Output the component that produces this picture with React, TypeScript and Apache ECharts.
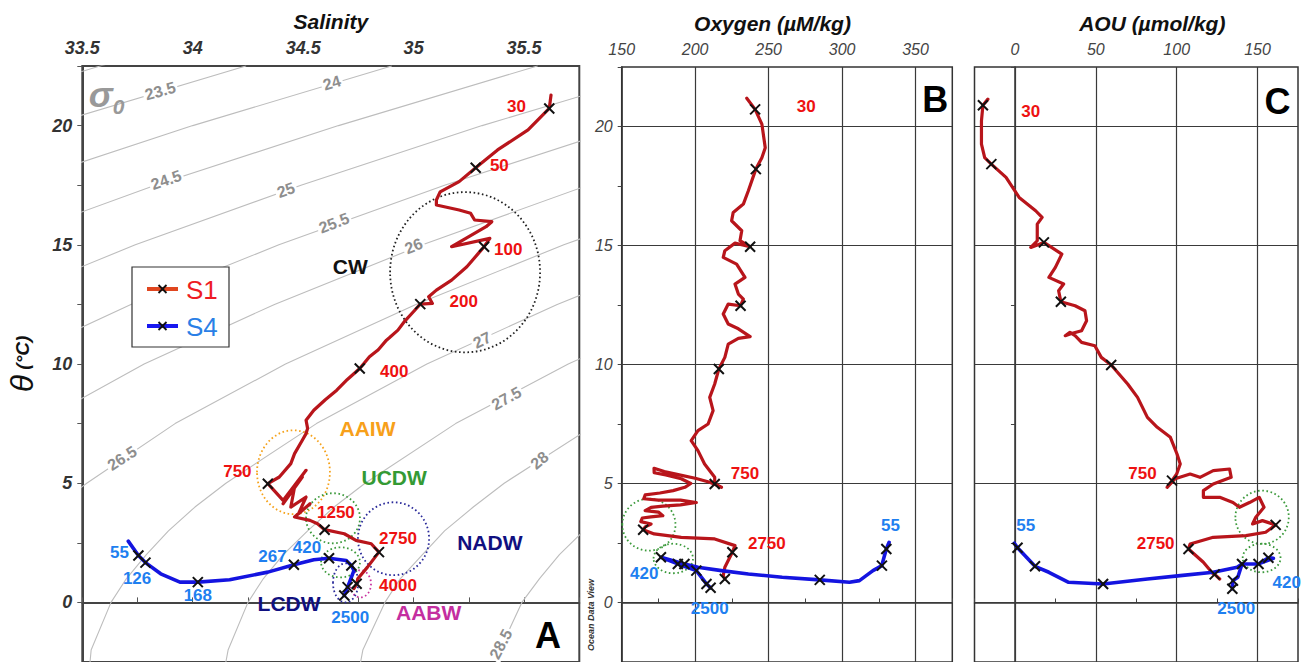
import React, { useEffect, useRef } from "react";
import * as echarts from "echarts";

const FONT = "'Liberation Sans', Arial, Helvetica, sans-serif";

// ---------- axis ranges ----------
const salinityRange = [33.5, 35.75];
const oxygenRange = [150, 375];
const aouRange = [-25, 175];
const thetaRange = [-2.5, 22.5];
const oxygenGrid = [200, 250, 300, 350];
const aouGrid = [0, 50, 100, 150];
const thetaGrid = [0, 5, 10, 15, 20];

// ---------- Panel A: σ0 isopycnals, [S, θ] ----------
const sigma23_0 = [[32.69, 20], [33.58, 22.5], [34.55, 25]];
const sigma23_5 = [[32.53, 17.5], [33.34, 20], [34.24, 22.5]];
const sigma24_0 = [[33.18, 17.5], [34.0, 20], [34.9, 22.5]];
const sigma24_5 = [[33.09, 15], [33.83, 17.5], [34.66, 20], [35.56, 22.5]];
const sigma25_0 = [[33.08, 12.5], [33.74, 15], [34.49, 17.5], [35.31, 20], [36.21, 22.5]];
const sigma25_5 = [[33.14, 10], [33.72, 12.5], [34.39, 15], [35.14, 17.5], [35.97, 20]];
const sigma26_0 = [[33.29, 7.5], [33.78, 10], [34.37, 12.5], [35.04, 15], [35.79, 17.5]];
const sigma26_5 = [[33.16, 2], [33.27, 3], [33.38, 4], [33.52, 5], [33.92, 7.5], [34.42, 10], [35.01, 12.5], [35.68, 15], [36.44, 17.5]];
const sigma27_0 = [[33.53, -3], [33.54, -2], [33.63, 0], [33.7, 1], [33.79, 2], [33.89, 3], [34.01, 4], [34.15, 5], [34.56, 7.5], [35.06, 10], [35.65, 12.5], [36.33, 15]];
const sigma27_5 = [[34.14, -3], [34.16, -2], [34.25, 0], [34.32, 1], [34.41, 2], [34.52, 3], [34.64, 4], [34.78, 5], [35.19, 7.5], [35.7, 10], [36.3, 12.5]];
const sigma28_0 = [[34.75, -3], [34.77, -2], [34.87, 0], [34.94, 1], [35.04, 2], [35.14, 3], [35.27, 4], [35.41, 5], [35.83, 7.5]];
const sigma28_5 = [[35.36, -3], [35.39, -2], [35.49, 0], [35.57, 1], [35.66, 2], [35.77, 3]];
const isopycnals = [sigma23_0, sigma23_5, sigma24_0, sigma24_5, sigma25_0, sigma25_5, sigma26_0, sigma26_5, sigma27_0, sigma27_5, sigma28_0, sigma28_5];

const isopycnalLabels: [string, number, number][] = [
  ["23.5", 33.853, 21.45], ["24", 34.63, 21.79], ["24.5", 33.88, 17.72], ["25", 34.422, 17.3],
  ["25.5", 34.64, 15.91], ["26", 35.0, 14.95], ["26.5", 33.68, 6.05], ["27", 35.31, 11.0],
  ["27.5", 35.42, 8.56], ["28", 35.57, 5.96], ["28.5", 35.395, -1.75],
];
const isopycnalLabelAngles = [16, 17, 19, 20, 21, 22, 33, 26, 29, 40, 62];

// ---------- Panel A: θ–S profiles ----------
const s1TS = [
  [35.622, 21.28], [35.614, 20.72], [35.518, 19.82], [35.38, 18.98], [35.281, 18.23], [35.206, 17.65], [35.12, 17.22],
  [35.103, 16.88], [35.103, 16.67], [35.206, 16.46], [35.258, 16.32], [35.276, 16.04], [35.354, 15.97], [35.328, 15.76],
  [35.172, 14.92], [35.345, 15.27], [35.319, 14.92], [35.293, 14.64], [35.241, 14.08], [35.172, 13.52], [35.103, 13.1],
  [35.068, 12.82], [35.085, 12.54], [35.03, 12.51], [35.0, 12.2], [34.96, 11.8], [34.929, 11.42], [34.89, 11.1],
  [34.877, 11.0], [34.84, 10.6], [34.8, 10.3], [34.756, 9.81], [34.7, 9.35], [34.652, 8.9], [34.6, 8.5], [34.548, 8.06],
  [34.513, 7.64], [34.52, 7.3], [34.513, 7.08], [34.496, 6.8], [34.461, 6.24], [34.444, 5.82], [34.392, 5.26],
  [34.34, 4.98], [34.409, 4.28], [34.513, 5.54], [34.444, 4.7], [34.496, 5.26], [34.409, 4.14], [34.461, 4.84],
  [34.444, 4.0], [34.513, 4.42], [34.479, 3.72], [34.531, 4.14], [34.461, 3.58], [34.531, 3.44], [34.565, 3.3],
  [34.597, 3.05], [34.686, 2.88], [34.739, 2.6], [34.808, 2.46], [34.843, 2.11], [34.791, 1.48], [34.747, 0.99],
  [34.742, 0.78], [34.73, 0.58],
];
const s1TSMarks = [[35.614, 20.72], [35.281, 18.23], [35.319, 14.92], [35.03, 12.51], [34.756, 9.81], [34.34, 4.98], [34.597, 3.05], [34.843, 2.11], [34.742, 0.78]];
const s4TS = [
  [33.708, 2.57], [33.754, 1.97], [33.786, 1.67], [33.855, 1.2], [33.942, 0.85], [34.023, 0.85], [34.167, 0.95],
  [34.34, 1.27], [34.458, 1.58], [34.548, 1.79], [34.617, 1.85], [34.695, 1.76], [34.718, 1.55], [34.73, 1.34],
  [34.713, 0.92], [34.701, 0.64], [34.686, 0.29],
];
const s4TSMarks = [[33.754, 1.97], [33.786, 1.67], [34.023, 0.85], [34.458, 1.58], [34.617, 1.85], [34.718, 1.55], [34.701, 0.64], [34.686, 0.29]];

const s1DepthLabelsA: [string, number, number][] = [
  ["30", 35.466, 20.82], ["50", 35.388, 18.32], ["100", 35.428, 14.81], ["200", 35.227, 12.61], ["400", 34.912, 9.67],
  ["750", 34.202, 5.47], ["1250", 34.648, 3.79], ["2750", 34.929, 2.67], ["4000", 34.929, 0.71],
];
const s4DepthLabelsA: [string, number, number][] = [
  ["55", 33.668, 2.11], ["126", 33.748, 1.02], ["168", 34.023, 0.29], ["267", 34.361, 1.94], ["420", 34.517, 2.32], ["2500", 34.713, -0.62],
];
const waterMassLabels: [string, number, number][] = [
  ["CW", 34.713, 14.08], ["AAIW", 34.791, 7.29], ["UCDW", 34.912, 5.26], ["NADW", 35.345, 2.53], ["LCDW", 34.436, -0.05], ["AABW", 35.068, -0.41],
];
const waterMassColors = ["#111111", "#f7a01a", "#349a34", "#101080", "#101080", "#c42ea0"];
// [S centre, θ centre, S radius, θ radius]
const waterMassEllipsesA = [
  [35.233, 13.85, 0.3395, 3.36], [34.456, 5.46, 0.165, 1.76], [34.635, 3.53, 0.122, 1.05], [34.909, 2.67, 0.161, 1.53],
  [34.669, 1.68, 0.088, 0.63], [34.759, 0.78, 0.048, 0.57], [34.692, 0.82, 0.057, 0.82],
];
const ellipseColorsA = ["#222222", "#f5a21b", "#3c9a3c", "#2a2a9a", "#3c9a3c", "#c8309e", "#2a2a9a"];

// ---------- Panel B: θ–O2 ----------
const s1Oxy = [
  [235.1, 21.19], [240.8, 20.72], [245.4, 20.1], [247.7, 19.11], [245.4, 18.69], [241.3, 18.21], [236.2, 17.3], [232.8, 16.74],
  [225.9, 16.39], [224.8, 16.04], [231.7, 15.62], [230.5, 15.2], [237.4, 14.95], [227.1, 15.1], [220.2, 14.78], [219.1, 14.5],
  [228.2, 14.22], [233.9, 13.66], [227.1, 13.38], [229.4, 12.96], [232.8, 12.75], [230.9, 12.47], [222.5, 12.54], [219.1, 12.12],
  [222.5, 11.7], [229.4, 11.5], [237.4, 11.17], [229.4, 11.1], [222.5, 10.86], [220.2, 10.3], [216.1, 9.81], [213.3, 9.18],
  [209.9, 8.62], [212.2, 8.06], [208.8, 7.5], [201.9, 7.22], [197.3, 6.8], [201.9, 6.38], [206.4, 5.82], [213.3, 5.26],
  [213.3, 4.98], [217.9, 4.84], [210, 5.05], [200, 5.22], [190, 5.35], [179, 5.5], [172, 5.64], [172.1, 5.45], [180, 5.36],
  [190.5, 5.2], [197, 5.0], [193, 4.84], [185, 4.7], [176, 4.6], [166, 4.52], [165, 4.36], [175, 4.3], [190, 4.3],
  [200.8, 4.2], [190, 4.1], [178, 4.05], [170, 4.0], [166, 3.86], [175, 3.8], [178, 3.65], [170, 3.6], [164, 3.55],
  [163, 3.4], [170, 3.3], [166, 3.18], [164.6, 3.06], [172.1, 2.88], [190.5, 2.74], [213.3, 2.67], [227.1, 2.39],
  [225.3, 2.11], [220.2, 1.48], [219.1, 1.13], [220.2, 0.99],
];
const s1OxyMarks = [[240.8, 20.72], [241.3, 18.21], [237.4, 14.95], [230.9, 12.47], [216.1, 9.81], [213.3, 4.98], [164.6, 3.06], [225.3, 2.11], [220.2, 0.99]];
const s4Oxy = [
  [332, 2.53], [330.1, 2.25], [327.9, 1.76], [327.1, 1.55], [321, 1.34], [311.8, 0.92], [305, 0.85], [284.8, 0.95],
  [259.2, 1.06], [236.2, 1.2], [217.9, 1.34], [201.9, 1.48], [192.7, 1.62], [176.7, 1.9], [188.2, 1.62], [200.8, 1.34],
  [207.7, 0.78], [210.5, 0.62],
];
const s4OxyMarks = [[330.1, 2.25], [327.1, 1.55], [284.8, 0.95], [192.7, 1.62], [176.7, 1.9], [188.2, 1.62], [200.8, 1.34], [207.7, 0.78], [210.5, 0.62]];
const s1LabelsB: [string, number, number][] = [["30", 275.6, 20.82], ["750", 233.9, 5.4], ["2750", 248.8, 2.49]];
const s4LabelsB: [string, number, number][] = [["55", 332.9, 3.22], ["420", 165.3, 1.23], ["2500", 209.9, -0.26]];
const ellipsesB = [[168.5, 3.27, 18.1, 1.09], [185.1, 1.85, 13.4, 0.62]];

// ---------- Panel C: θ–AOU ----------
const s1Aou = [
  [-16.7, 21.15], [-19.8, 20.89], [-20.7, 20.24], [-20.7, 19.26], [-18.7, 18.69], [-14.6, 18.42], [-5.5, 17.86], [2.6, 17.02],
  [12.8, 16.46], [16.8, 16.18], [13.8, 15.9], [13.8, 15.2], [9.8, 14.92], [17.9, 15.13], [29.0, 14.64], [25.0, 14.08],
  [21.0, 13.66], [30.1, 13.38], [27.0, 13.1], [28.4, 12.64], [37.2, 12.47], [43.3, 12.26], [44.3, 11.84], [41.2, 11.42],
  [35, 11.3], [31.1, 11.21], [34, 11.35], [37.2, 11.21], [41.2, 10.93], [49.4, 10.79], [53.4, 10.3], [59.5, 9.98],
  [69.7, 9.18], [75.8, 8.62], [81.9, 7.78], [88.0, 7.36], [96.1, 6.94], [100.2, 6.24], [102.2, 5.82], [100, 5.4],
  [97.1, 5.12], [94.1, 4.84], [99, 5.2], [108.3, 5.4], [114.4, 5.26], [122.6, 5.54], [132.7, 5.61], [133.7, 5.26],
  [122.6, 4.98], [116.5, 4.7], [116.5, 4.42], [126.6, 4.42], [134.8, 4.2], [138.8, 4.0], [145, 4.2], [151, 4.42],
  [154, 4.0], [148.9, 3.58], [146.9, 3.3], [153, 3.44], [161.2, 3.26], [155, 2.95], [142.8, 2.81], [122.6, 2.74],
  [108.3, 2.46], [107.3, 2.25], [116.5, 1.69], [122.6, 1.2], [123.5, 1.18], [126.6, 0.99],
];
const s1AouMarks = [[-19.8, 20.89], [-14.6, 18.42], [17.9, 15.13], [28.4, 12.64], [59.5, 9.98], [97.1, 5.12], [161.2, 3.26], [107.3, 2.25], [123.5, 1.18]];
const s4Aou = [
  [-0.4, 2.49], [1.6, 2.3], [12.4, 1.52], [21, 1.27], [33.2, 0.85], [54.5, 0.78], [81.9, 0.99], [102.2, 1.13], [122.6, 1.27],
  [137.4, 1.48], [140.4, 1.62], [150.6, 1.62], [156.7, 1.88], [159.8, 1.86], [150.6, 1.62], [140.4, 1.62], [137.8, 1.06],
  [134.8, 0.92], [134.4, 0.58],
];
const s4AouMarks = [[1.6, 2.3], [12.4, 1.52], [54.5, 0.78], [140.4, 1.62], [150.6, 1.62], [156.7, 1.88], [134.8, 0.92], [134.4, 0.58]];
const s1LabelsC: [string, number, number][] = [["30", 9.76, 20.65], ["750", 78.9, 5.4], ["2750", 87.0, 2.49]];
const s4LabelsC: [string, number, number][] = [["55", 6.7, 3.23], ["420", 168, 0.85], ["2500", 136.8, -0.24]];
const ellipsesC = [[152.8, 3.58, 16.5, 1.12], [152.5, 1.87, 11.7, 0.6]];

// ---------- panel letters ----------
const panelLetters: [string, number, number][][] = [[["A", 35.608, -1.39]], [["B", 363.4, 21.13]], [["C", 162.3, 21.05]]];

const S1_LINE = "#b8151b";
const S4_LINE = "#1414e0";
const S1_TEXT = "#ee1111";
const S4_TEXT = "#1f7ff0";
const X_SYMBOL = "path://M0,0L10,10M10,0L0,10";

const isMult = (v: number, step: number) => Math.abs(v / step - Math.round(v / step)) < 1e-6;
const fmt = (step: number) => (v: number) => (isMult(v, step) ? String(Math.round(v * 100) / 100) : "");

function lineS(i: number, data: number[][], color: string, width: number, z = 5) {
  return {
    type: "line", xAxisIndex: i, yAxisIndex: i, data, showSymbol: false, symbol: "none", silent: true, z,
    clip: true, lineStyle: { color, width, join: "round", cap: "round" },
  };
}
function markS(i: number, data: number[][]) {
  return {
    type: "scatter", xAxisIndex: i, yAxisIndex: i, data, symbol: X_SYMBOL, symbolSize: 10, silent: true, z: 6,
    itemStyle: { color: "rgba(0,0,0,0)", borderColor: "#111", borderWidth: 2, opacity: 1 },
  };
}
function textS(i: number, items: [string, number, number][], style: any, colors?: string[], angles?: number[], z = 8) {
  return {
    type: "scatter", xAxisIndex: i, yAxisIndex: i, silent: true, z, symbolSize: 1,
    itemStyle: { color: "rgba(0,0,0,0)", opacity: 1 },
    data: items.map((d, k) => ({
      name: d[0], value: [d[1], d[2]],
      label: { ...(colors ? { color: colors[k] } : {}), ...(angles ? { rotate: angles[k] } : {}) },
    })),
    label: { show: true, position: "inside", formatter: "{b}", fontFamily: FONT, opacity: 1, ...style },
  };
}
function ellipseS(i: number, data: number[][], colors: string[]) {
  return {
    type: "custom", xAxisIndex: i, yAxisIndex: i, silent: true, z: 4, data,
    renderItem: (params: any, api: any) => {
      const c = api.coord([api.value(0), api.value(1)]);
      const s = api.size([api.value(2), api.value(3)], [api.value(0), api.value(1)]);
      return {
        type: "ellipse",
        shape: { cx: c[0], cy: c[1], rx: s[0], ry: s[1] },
        style: { fill: "none", stroke: colors[params.dataIndex], lineWidth: 1.8, lineDash: [1.6, 2.6] },
      };
    },
  };
}
function gridS(i: number, xs: number[], ys: number[]) {
  return {
    type: "line", xAxisIndex: i, yAxisIndex: i, data: [], silent: true, z: 1,
    markLine: {
      silent: true, symbol: ["none", "none"], label: { show: false }, animation: false,
      lineStyle: { color: "#3a3a3a", width: 1.2, type: "solid" },
      emphasis: { disabled: true },
      data: [...xs.map((v) => ({ xAxis: v })), ...ys.map((v) => ({ yAxis: v }))],
    },
  };
}

const depthStyle = { fontSize: 17, fontWeight: "bold" };

function buildOption() {
  const titleStyle = { fontSize: 21, fontWeight: "bold", fontStyle: "italic", color: "#111", fontFamily: FONT };
  const xAxes = [
    {
      gridIndex: 0, type: "value", position: "top", min: salinityRange[0], max: salinityRange[1], interval: 0.25,
      name: "Salinity", nameLocation: "middle", nameGap: 34, nameTextStyle: titleStyle,
      axisLine: { lineStyle: { color: "#444", width: 2 } }, axisTick: { length: 5, lineStyle: { color: "#555" } },
      axisLabel: { formatter: fmt(0.5), fontSize: 18, fontWeight: "bold", fontStyle: "italic", color: "#333", margin: 9, fontFamily: FONT },
      splitLine: { show: false },
    },
    {
      gridIndex: 1, type: "value", position: "top", min: oxygenRange[0], max: oxygenRange[1], interval: 25,
      name: "Oxygen (µM/kg)", nameLocation: "middle", nameGap: 33, nameTextStyle: { ...titleStyle, padding: [0, 29, 0, 0] },
      axisLine: { lineStyle: { color: "#333", width: 1.5 } }, axisTick: { length: 4, lineStyle: { color: "#444" } },
      axisLabel: { formatter: fmt(50), fontSize: 16, fontStyle: "italic", color: "#444", margin: 10, fontFamily: FONT },
      splitLine: { show: false },
    },
    {
      gridIndex: 2, type: "value", position: "top", min: aouRange[0], max: aouRange[1], interval: 25,
      name: "AOU (µmol/kg)", nameLocation: "middle", nameGap: 33, nameTextStyle: { ...titleStyle, padding: [0, 0, 0, 32] },
      axisLine: { lineStyle: { color: "#333", width: 1.5 } }, axisTick: { length: 4, lineStyle: { color: "#444" } },
      axisLabel: { formatter: fmt(50), fontSize: 16, fontStyle: "italic", color: "#444", margin: 10, fontFamily: FONT },
      splitLine: { show: false },
    },
  ];
  const yBase = { type: "value", min: thetaRange[0], max: thetaRange[1], interval: 2.5, splitLine: { show: false } };
  const yAxes = [
    {
      ...yBase, gridIndex: 0,
      name: "{t|θ}{u| (°C)}", nameLocation: "middle", nameRotate: 90, nameGap: 44,
      nameTextStyle: {
        rich: {
          t: { fontSize: 32, fontStyle: "italic", color: "#111", fontFamily: FONT },
          u: { fontSize: 19, fontStyle: "italic", fontWeight: "bold", color: "#111", fontFamily: FONT },
        },
      },
      axisLine: { lineStyle: { color: "#444", width: 2 } }, axisTick: { length: 5, lineStyle: { color: "#555" } },
      axisLabel: { formatter: fmt(5), fontSize: 18, fontWeight: "bold", fontStyle: "italic", color: "#333", margin: 10, fontFamily: FONT },
    },
    {
      ...yBase, gridIndex: 1,
      axisLine: { lineStyle: { color: "#333", width: 1.5 } }, axisTick: { length: 4, lineStyle: { color: "#444" } },
      axisLabel: { formatter: fmt(5), fontSize: 16, fontStyle: "italic", color: "#444", margin: 9, fontFamily: FONT },
    },
    {
      ...yBase, gridIndex: 2,
      axisLine: { lineStyle: { color: "#333", width: 1.5 } }, axisTick: { length: 4, lineStyle: { color: "#444" } },
      axisLabel: { show: false },
    },
  ];

  const series: any[] = [];
  // Panel A
  isopycnals.forEach((pts) => series.push(lineS(0, pts, "#bdbdbd", 1.1, 1)));
  series.push(textS(0, isopycnalLabels, { fontSize: 16, fontWeight: "bold", color: "#8e8e8e", backgroundColor: "#fff", padding: [0, 2] }, undefined, isopycnalLabelAngles, 2));
  series.push(textS(0, [["σ", 33.61, 21.3]], {
    formatter: "{a|σ}{b|0}",
    rich: {
      a: { fontSize: 36, fontWeight: "bold", fontStyle: "italic", color: "#999", fontFamily: FONT, verticalAlign: "bottom" },
      b: { fontSize: 21, fontWeight: "bold", fontStyle: "italic", color: "#999", fontFamily: FONT, verticalAlign: "bottom", padding: [0, 0, -4, 0] },
    },
  }, undefined, undefined, 2));
  series.push(ellipseS(0, waterMassEllipsesA, ellipseColorsA));
  series.push(lineS(0, s1TS, S1_LINE, 3.2));
  series.push(lineS(0, s4TS, S4_LINE, 3.6));
  series.push(markS(0, s1TSMarks));
  series.push(markS(0, s4TSMarks));
  series.push(textS(0, s1DepthLabelsA, { ...depthStyle, color: S1_TEXT }));
  series.push(textS(0, s4DepthLabelsA, { ...depthStyle, color: S4_TEXT }));
  series.push(textS(0, waterMassLabels, { fontSize: 21, fontWeight: "bold" }, waterMassColors));
  // Panel B
  series.push(gridS(1, oxygenGrid, thetaGrid));
  series.push(ellipseS(1, ellipsesB, ["#3c9a3c", "#3c9a3c"]));
  series.push(lineS(1, s1Oxy, S1_LINE, 3.2));
  series.push(lineS(1, s4Oxy, S4_LINE, 3.6));
  series.push(markS(1, s1OxyMarks));
  series.push(markS(1, s4OxyMarks));
  series.push(textS(1, s1LabelsB, { ...depthStyle, color: S1_TEXT }));
  series.push(textS(1, s4LabelsB, { ...depthStyle, color: S4_TEXT }));
  // Panel C
  series.push(gridS(2, aouGrid, thetaGrid));
  series.push(ellipseS(2, ellipsesC, ["#3c9a3c", "#3c9a3c"]));
  series.push(lineS(2, s1Aou, S1_LINE, 3.2));
  series.push(lineS(2, s4Aou, S4_LINE, 3.6));
  series.push(markS(2, s1AouMarks));
  series.push(markS(2, s4AouMarks));
  series.push(textS(2, s1LabelsC, { ...depthStyle, color: S1_TEXT }));
  series.push(textS(2, s4LabelsC, { ...depthStyle, color: S4_TEXT }));
  // letters
  panelLetters.forEach((l, i) => series.push(textS(i, l, { fontSize: 36, fontWeight: "bold", color: "#000" })));

  const legendX = 132, legendY = 267;
  const graphic: any[] = [
    { type: "rect", z: 20, shape: { x: legendX, y: legendY, width: 97, height: 80 }, style: { fill: "#fff", stroke: "#333", lineWidth: 1.2 } },
    { type: "line", z: 21, shape: { x1: legendX + 15, y1: legendY + 22, x2: legendX + 46, y2: legendY + 22 }, style: { stroke: "#e0461f", lineWidth: 4 } },
    { type: "line", z: 22, shape: { x1: legendX + 26.5, y1: legendY + 18, x2: legendX + 34.5, y2: legendY + 26 }, style: { stroke: "#111", lineWidth: 1.8 } },
    { type: "line", z: 22, shape: { x1: legendX + 34.5, y1: legendY + 18, x2: legendX + 26.5, y2: legendY + 26 }, style: { stroke: "#111", lineWidth: 1.8 } },
    { type: "text", z: 21, x: legendX + 54, y: legendY + 23, style: { text: "S1", fill: "#ee1c24", fontSize: 26, fontFamily: FONT, verticalAlign: "middle" } },
    { type: "line", z: 21, shape: { x1: legendX + 15, y1: legendY + 59, x2: legendX + 46, y2: legendY + 59 }, style: { stroke: "#1818f0", lineWidth: 4 } },
    { type: "line", z: 22, shape: { x1: legendX + 26.5, y1: legendY + 55, x2: legendX + 34.5, y2: legendY + 63 }, style: { stroke: "#111", lineWidth: 1.8 } },
    { type: "line", z: 22, shape: { x1: legendX + 34.5, y1: legendY + 55, x2: legendX + 26.5, y2: legendY + 63 }, style: { stroke: "#111", lineWidth: 1.8 } },
    { type: "text", z: 21, x: legendX + 54, y: legendY + 60, style: { text: "S4", fill: "#2a7fe6", fontSize: 26, fontFamily: FONT, verticalAlign: "middle" } },
    {
      type: "text", z: 21, x: 591, y: 615, rotation: Math.PI / 2,
      style: { text: "Ocean Data View", fill: "#333", fontSize: 9, fontWeight: "bold", fontStyle: "italic", fontFamily: FONT, align: "center", verticalAlign: "middle" },
    },
  ];

  return {
    animation: false,
    backgroundColor: "#fff",
    textStyle: { fontFamily: FONT },
    grid: [
      { left: 82.3, top: 66, width: 497, height: 596, show: true, borderColor: "#444", borderWidth: 2, backgroundColor: "#fff" },
      { left: 621.7, top: 67, width: 330.6, height: 595, show: true, borderColor: "#333", borderWidth: 1.5 },
      { left: 974.5, top: 67, width: 327.5, height: 595, show: true, borderColor: "#333", borderWidth: 1.5 },
    ],
    xAxis: xAxes,
    yAxis: yAxes,
    series,
    graphic,
  };
}

export default function App() {
  const ref = useRef<HTMLDivElement>(null);
  useEffect(() => {
    if (!ref.current) return;
    const chart = echarts.init(ref.current, undefined, { renderer: "svg" });
    chart.setOption(buildOption() as any);
    return () => chart.dispose();
  }, []);
  return <div ref={ref} style={{ position: "absolute", left: 0, top: 0, width: 1301, height: 662, background: "#fff" }} />;
}
